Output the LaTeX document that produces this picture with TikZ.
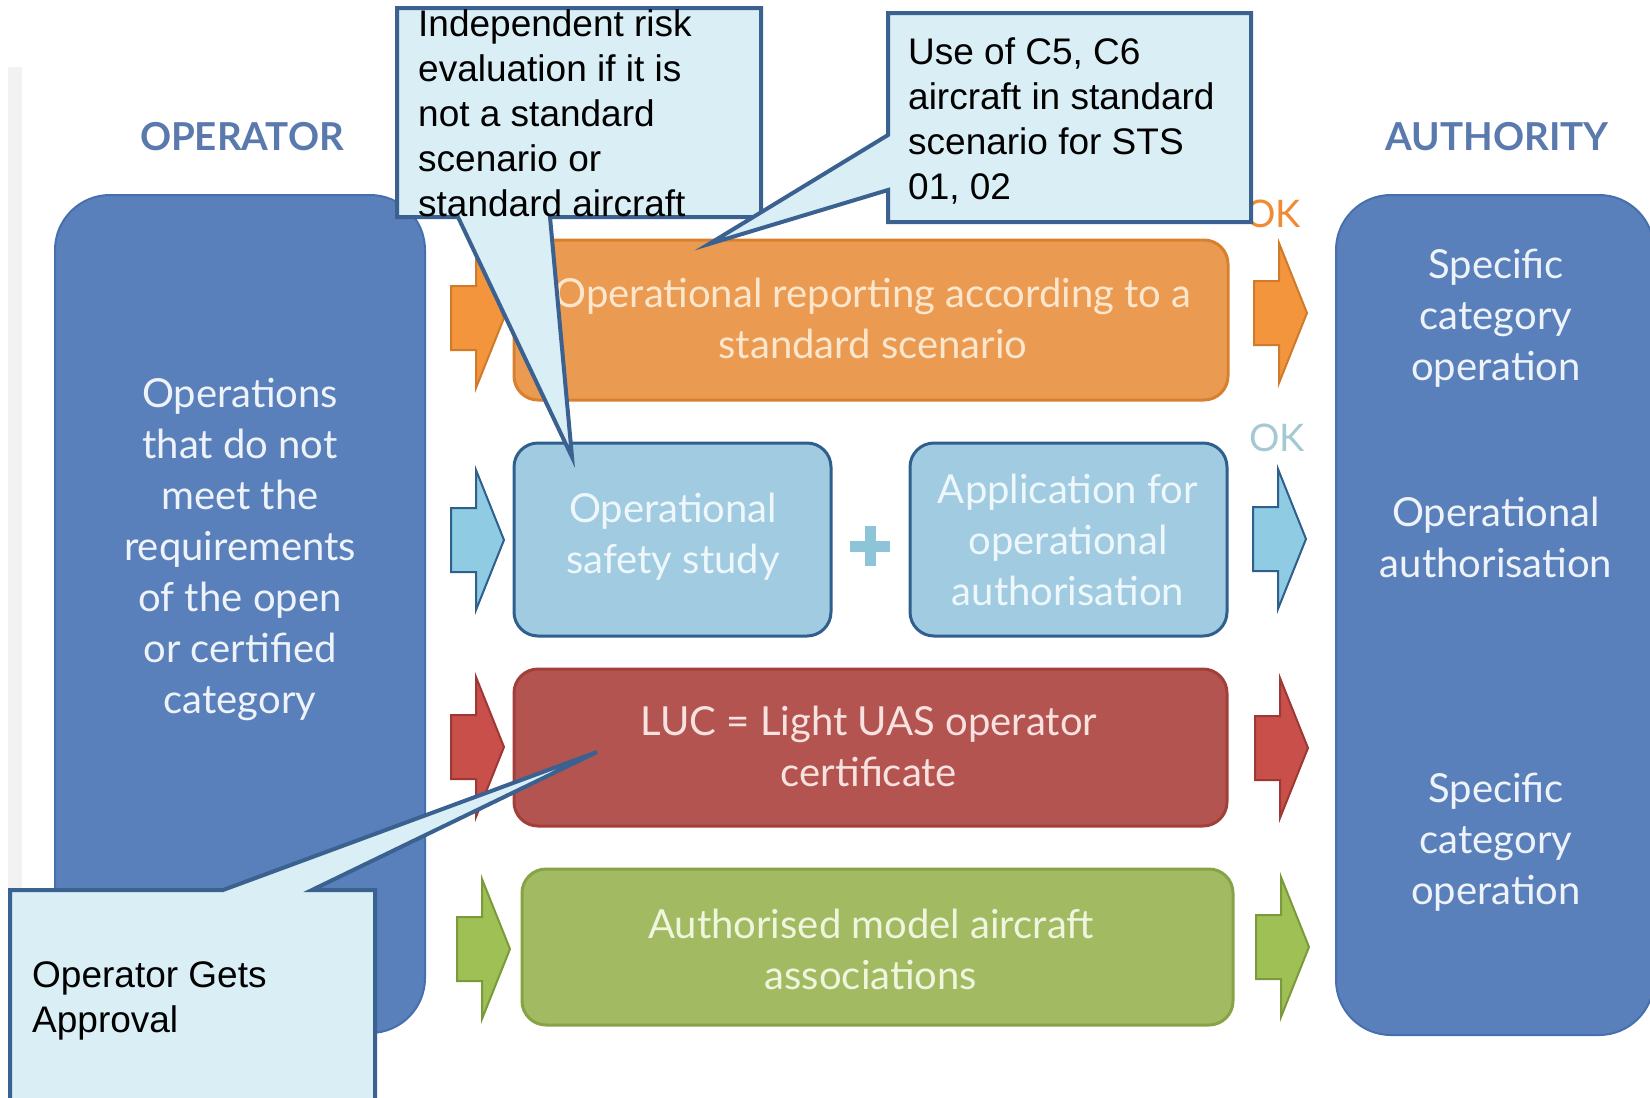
\documentclass[tikz,border=0pt]{standalone}
\usepackage{fontspec}
\newfontfamily\lato{Lato}
\newfontfamily\arialf{Liberation Sans}
\definecolor{bigfill}{HTML}{5A80BB}
\definecolor{bigedge}{HTML}{4670AD}
\definecolor{orfill}{HTML}{EB9A52}
\definecolor{oredge}{HTML}{D9802F}
\definecolor{lbfill}{HTML}{A0CBE0}
\definecolor{lbedge}{HTML}{2F5F8C}
\definecolor{rdfill}{HTML}{B45450}
\definecolor{rdedge}{HTML}{A33F3B}
\definecolor{gnfill}{HTML}{A2BA62}
\definecolor{gnedge}{HTML}{86A445}
\definecolor{aorfill}{HTML}{F3953D}
\definecolor{aoredge}{HTML}{D07A2A}
\definecolor{albfill}{HTML}{8FCBE2}
\definecolor{ardfill}{HTML}{C94F4B}
\definecolor{ardedge}{HTML}{9E3835}
\definecolor{agnfill}{HTML}{9FC055}
\definecolor{agnedge}{HTML}{7A9A3C}
\definecolor{callfill}{HTML}{DAEEF5}
\definecolor{callborder}{HTML}{3A6190}
\definecolor{headblue}{HTML}{5A7AAE}
\definecolor{okorange}{HTML}{F08A33}
\definecolor{okblue}{HTML}{A4C9D2}
\definecolor{plusc}{HTML}{8EC4D8}
\definecolor{txtblue}{HTML}{EEF3FA}
\definecolor{txtor}{HTML}{FCE6CC}
\definecolor{txtlb}{HTML}{EEF7FB}
\definecolor{txtrd}{HTML}{F7E2E0}
\definecolor{txtgn}{HTML}{F0F5DE}
\newcommand\myarrow[4]{%
  \filldraw[fill=#3, draw=#4, line width=2pt, line join=miter]
    (#1,#2-32) -- (#1+25,#2-32) -- (#1+25,#2-70) -- (#1+53,#2)
    -- (#1+25,#2+70) -- (#1+25,#2+32) -- (#1,#2+32) -- cycle;}
\begin{document}
\begin{tikzpicture}[x=1pt,y=-1pt,
  bigbox/.style={draw=bigedge, fill=bigfill, line width=2pt, rounded corners=55pt, inner sep=0pt},
  midbox/.style={line width=3pt, rounded corners=24pt, inner sep=0pt},
  boxtext/.style={font=\lato\fontsize{40}{51}\selectfont, align=center, inner sep=0pt},
  headtext/.style={font=\lato\bfseries\fontsize{38.5}{38.5}\selectfont, text=headblue, inner sep=0pt},
  oktext/.style={font=\lato\fontsize{38}{38}\selectfont, inner sep=0pt},
  callout/.style={draw=callborder, fill=callfill, line width=4pt, line join=miter},
  calltext/.style={font=\arialf\fontsize{37}{45}\selectfont, align=left, inner sep=0pt, anchor=base west}]
\useasboundingbox (0,0) rectangle (1650,1098);
\begin{scope}
\clip (0,0) rectangle (1650,1098);
\fill[white] (0,0) rectangle (1650,1098);
\fill[black!5] (8,67) rectangle (22,1098);
% headings
\node[headtext] (op) at (242,137) {OPERATOR};
\node[headtext] (au) at (1497,137) {AUTHORITY};
% big boxes
\node[bigbox, minimum width=370pt, minimum height=838pt] (opbox) at (240,614) {};
\node[boxtext, text=txtblue] (optext) at (240,549) {Operations\\that do not\\meet the\\requirements\\of the open\\or certified\\category};
\node[bigbox, minimum width=318pt, minimum height=840pt] (aubox) at (1495,615) {};
\node[boxtext, text=txtblue] (au1) at (1496,318) {Specific\\category\\operation};
\node[boxtext, text=txtblue] (au2) at (1496,537) {Operational\\authorisation};
\node[boxtext, text=txtblue] (au3) at (1496,842) {Specific\\category\\operation};
% middle boxes
\node[midbox, draw=oredge, fill=orfill, minimum width=714pt, minimum height=160pt] (orbox) at (871,320) {};
\node[boxtext, text=txtor] (ortext) at (873,318) {Operational reporting according to a\\standard scenario};
\node[midbox, draw=lbedge, fill=lbfill, minimum width=317pt, minimum height=193pt] (ssbox) at (672.5,539.5) {};
\node[boxtext, text=txtlb] (sstext) at (673,537) {Operational\\safety study};
\node[midbox, draw=lbedge, fill=lbfill, minimum width=317pt, minimum height=193pt] (apbox) at (1068.5,539.5) {};
\node[boxtext, text=txtlb] (aptext) at (1068,540) {Application for\\operational\\authorisation};
\node[midbox, draw=rdedge, fill=rdfill, minimum width=713pt, minimum height=157pt] (rdbox) at (870.5,747.5) {};
\node[boxtext, text=txtrd] (rdtext) at (869,746) {LUC = Light UAS operator\\certificate};
\node[midbox, draw=gnedge, fill=gnfill, minimum width=711pt, minimum height=156pt] (gnbox) at (877.5,947) {};
\node[boxtext, text=txtgn] (gntext) at (871,949) {Authorised model aircraft\\associations};
% plus
\draw[plusc, line width=11pt] (870,526) -- (870,566);
\draw[plusc, line width=11pt] (850,546) -- (890,546);
% arrows
\myarrow{451}{318}{aorfill}{aoredge}
\myarrow{451}{540}{albfill}{lbedge}
\myarrow{451}{747}{ardfill}{ardedge}
\myarrow{457}{949}{agnfill}{agnedge}
\myarrow{1254}{313}{aorfill}{aoredge}
\myarrow{1253}{539}{albfill}{lbedge}
\myarrow{1255}{748}{ardfill}{ardedge}
\myarrow{1256}{947}{agnfill}{agnedge}
% OK labels
\node[oktext, text=okorange] (ok1) at (1273,214) {OK};
\node[oktext, text=okblue] (ok2) at (1277,438) {OK};
% callouts
\draw[callout] (397,8) -- (761,8) -- (761,217) -- (550,217) -- (572,457) -- (458,217) -- (397,217) -- cycle;
\node[calltext] (c1) at (418,216) {Independent risk\\evaluation if it is\\not a standard\\scenario or\\standard aircraft};
\draw[callout] (888,13) -- (1251,13) -- (1251,222) -- (888,222) -- (888,190) -- (709,244) -- (888,135) -- cycle;
\node[calltext] (c2) at (908,199) {Use of C5, C6\\aircraft in standard\\scenario for STS\\01, 02};
\draw[callout] (10,890) -- (223,890) -- (597,752) -- (312,890) -- (375,890) -- (375,1110) -- (10,1110) -- cycle;
\node[calltext] (c3) at (32,1032) {Operator Gets\\Approval};
\end{scope}
\end{tikzpicture}
\end{document}
